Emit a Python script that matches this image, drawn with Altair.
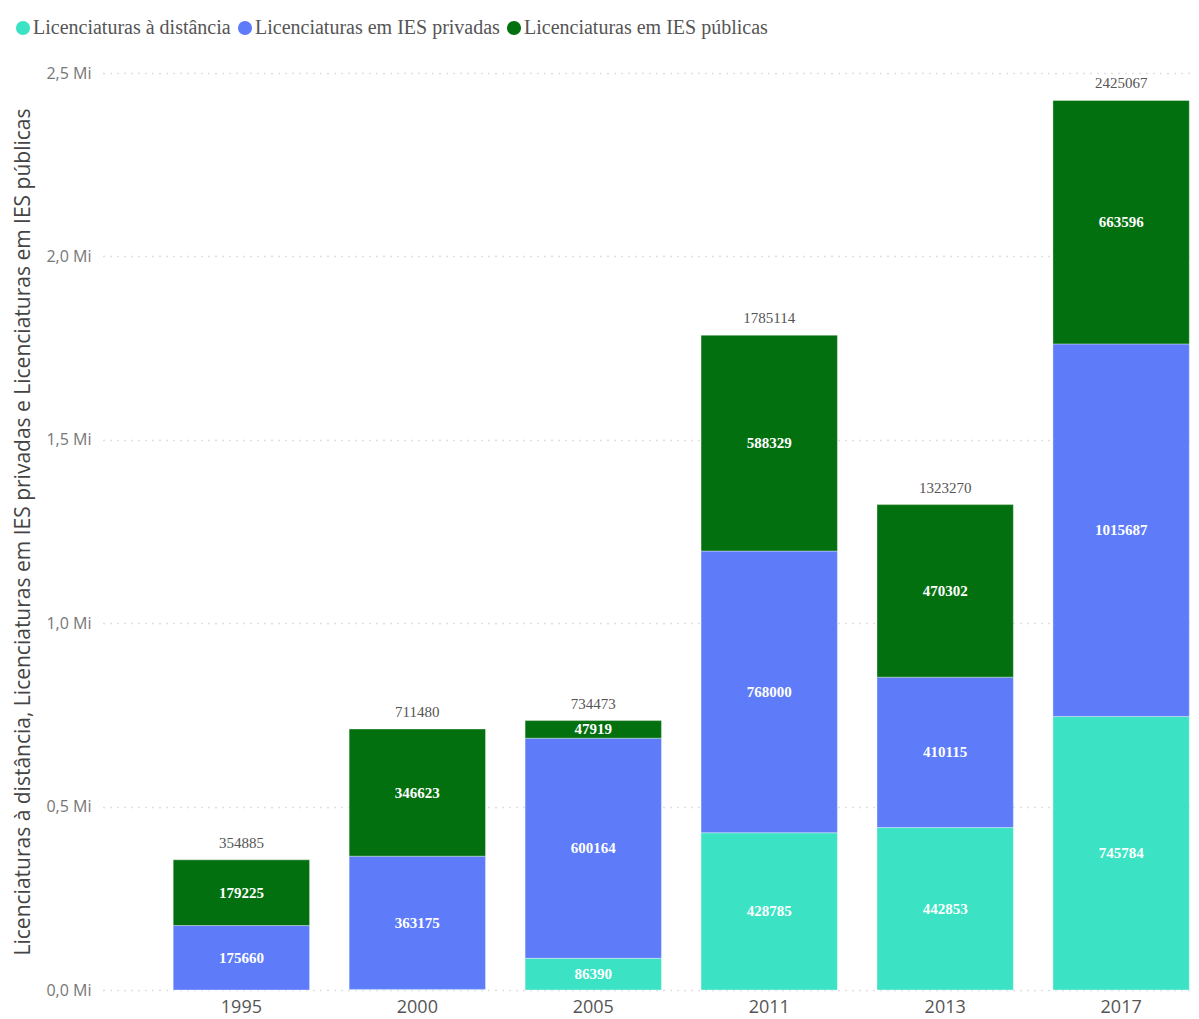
import altair as alt
import pandas as pd

years = ["1995", "2000", "2005", "2011", "2013", "2017"]
series = ["Licenciaturas à distância", "Licenciaturas em IES privadas", "Licenciaturas em IES públicas"]
colors = ["#3BE3C4", "#5E7CFA", "#03700F"]
dist = [0, 1682, 86390, 428785, 442853, 745784]
priv = [175660, 363175, 600164, 768000, 410115, 1015687]
pub = [179225, 346623, 47919, 588329, 470302, 663596]

rows = []
for i, y in enumerate(years):
    for k, (s, vals) in enumerate(zip(series, [dist, priv, pub])):
        rows.append({"year": y, "serie": s, "value": vals[i], "ord": k})
df = pd.DataFrame(rows)

xenc = alt.X("year:N", sort=years, title=None,
             scale=alt.Scale(paddingInner=0.225, paddingOuter=0.21, align=0.95),
             axis=alt.Axis(labelFont="Open Sans", labelFontSize=18, labelColor="#555555",
                           labelAngle=0, ticks=False, domain=False, labelPadding=8))

base = alt.Chart(df).transform_stack(
    stack="value", groupby=["year"], as_=["y0", "y1"], sort=[alt.SortField("ord")]
).transform_calculate(mid="(datum.y0 + datum.y1) / 2")

yscale = alt.Scale(domain=[0, 2500000], nice=False)

bars = base.mark_bar(stroke="#ffffff", strokeOpacity=0.35, strokeWidth=1).encode(
    x=xenc,
    y=alt.Y("y0:Q", scale=yscale,
            title="Licenciaturas à distância, Licenciaturas em IES privadas e Licenciaturas em IES públicas",
            axis=alt.Axis(values=[0, 500000, 1000000, 1500000, 2000000, 2500000],
                          labelExpr="replace(format(datum.value / 1000000, '.1f'), '.', ',') + ' Mi'",
                          labelFont="Open Sans", labelFontSize=16, labelColor="#777777",
                          ticks=False, domain=False, labelPadding=12,
                          grid=True, gridColor="#c0c0c0", gridDash=[1, 6], gridWidth=1.3,
                          titleFont="Open Sans", titleFontSize=21, titleColor="#444444",
                          titleFontWeight="normal", titlePadding=12)),
    y2="y1:Q",
    color=alt.Color("serie:N", scale=alt.Scale(domain=series, range=colors),
                    legend=alt.Legend(title=None, orient="none", direction="horizontal",
                                      legendX=-90, legendY=-55, symbolType="circle",
                                      symbolSize=200, symbolStrokeWidth=0,
                                      labelFont="Liberation Serif", labelFontSize=20,
                                      labelColor="#555555", labelOffset=0, columnPadding=4,
                                      labelLimit=400)),
    order=alt.Order("ord:Q"),
)

seg_labels = base.transform_filter("datum.value > 20000").mark_text(
    font="Liberation Serif", fontSize=15, fontWeight="bold", color="white", baseline="middle"
).encode(
    x=alt.X("year:N", sort=years),
    y=alt.Y("mid:Q", scale=yscale),
    text=alt.Text("value:Q", format="d"),
)

totals = alt.Chart(df).transform_aggregate(total="sum(value)", groupby=["year"]).mark_text(
    font="Liberation Serif", fontSize=15, color="#555555", baseline="bottom", dy=-9
).encode(
    x=alt.X("year:N", sort=years),
    y=alt.Y("total:Q", scale=yscale),
    text=alt.Text("total:Q", format="d"),
)

chart = alt.layer(bars, seg_labels, totals).properties(
    width=1090, height=917,
    autosize=alt.AutoSizeParams(type="none"),
    padding={"left": 103, "top": 73, "right": 6, "bottom": 29},
).configure_view(stroke=None).configure_axis(labelFontWeight="normal")

chart.save("out.html", embed_options={"renderer": "svg", "actions": False})
